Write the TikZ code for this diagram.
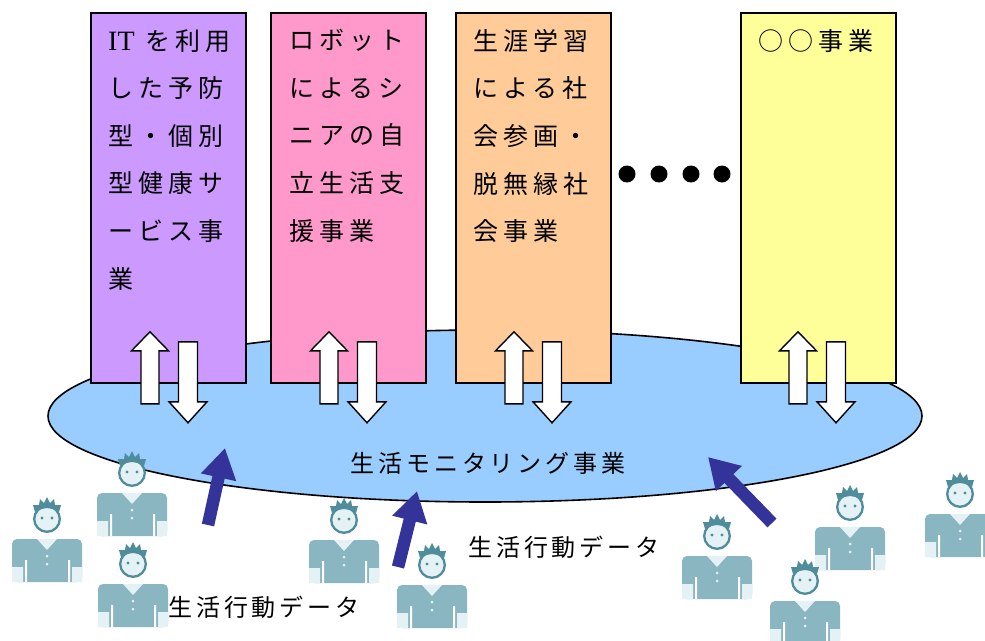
\documentclass[tikz,border=0pt]{standalone}
\usepackage{fontspec}
\newfontfamily\jpfont{Noto Sans CJK JP}[LetterSpace=16]
\newfontfamily\jpwide{Noto Sans CJK JP}[LetterSpace=20]
\newfontfamily\latfont{Liberation Serif}
\usetikzlibrary{
  arrows.meta,
  positioning,
  shapes.geometric
}

\definecolor{itpurple}{HTML}{CC99FF}
\definecolor{robopink}{HTML}{FF99CC}
\definecolor{learnorange}{HTML}{FFCC99}
\definecolor{otheryellow}{HTML}{FFFF99}
\definecolor{monblue}{HTML}{99CCFF}
\definecolor{dataindigo}{HTML}{333399}
\definecolor{shirtteal}{HTML}{8AB6C1}
\definecolor{facelight}{HTML}{E4F1F5}
\definecolor{hairteal}{HTML}{4F8D9C}

\tikzset{
  bizbox/.style={draw=black, line width=1.6pt, minimum width=155pt,
    minimum height=370pt, inner sep=0pt},
  boxtext/.style={anchor=north west, align=left, inner sep=0pt,
    font=\jpwide\fontsize{25}{47.6}\selectfont},
  jplabel/.style={inner sep=0pt, font=\jpfont\fontsize{24}{28}\selectfont},
  dataflow/.style={line width=12.5pt, dataindigo,
    -{Triangle[width=34pt,length=30pt]}},
  blockarrow/.style={draw=black, line width=1.4pt, fill=white, line join=miter},
  % up and down block arrows under a business box
  updown/.pic={
    \path[blockarrow] (-27.5,20) -- (-27.5,-33) -- (-37,-33) -- (-18.5,-52)
      -- (0,-33) -- (-9.5,-33) -- (-9.5,20) -- cycle;
    \path[blockarrow] (10,-42) -- (29,-42) -- (29,18) -- (38.5,18)
      -- (19.5,39) -- (0.5,18) -- (10,18) -- cycle;
  },
  % one senior, origin at the centre of the head
  person/.pic={
    \fill[shirtteal, rounded corners=5pt] (-35,20) rectangle (35,63);
    \fill[shirtteal] (-35,40) rectangle (35,63);
    \fill[facelight] (-10,20) -- (10,20) -- (0,31) -- cycle;
    \fill[facelight] (0,37) circle[radius=1.5pt] (0,45) circle[radius=1.5pt];
    \fill[white] (-22,41) rectangle (-20,63) (21,41) rectangle (23,63);
    \fill[facelight] (-35,48) rectangle (-24,63) (25,48) rectangle (35,63);
    \draw[hairteal, fill=facelight, line width=2.3pt] (0,0) circle[radius=12.8pt];
    \fill[hairteal] (-5,-1) circle[radius=1.6pt] (5,-1) circle[radius=1.6pt];
    \fill[hairteal] (-12,-7) -- (-14,-14) -- (-8,-14) -- (-7,-20) -- (-3,-16)
      -- (0,-22) -- (3,-16) -- (7,-20) -- (8,-14) -- (14,-14) -- (12,-7)
      -- (6,-10) -- (0,-11) -- (-6,-10) -- cycle;
  }
}

\begin{document}
\begin{tikzpicture}[x=1pt, y=-1pt]
\clip (0,0) rectangle (985,640);
\fill[white] (0,0) rectangle (985,640);

% monitoring platform
\node[ellipse, draw=black, line width=1.6pt, fill=monblue,
      minimum width=874pt, minimum height=172pt] (mon) at (485,416) {};
\node[jplabel] (monlabel) at (488,463) {生活モニタリング事業};

% business boxes
\node[bizbox, fill=itpurple] (itbox) at (168.5,198) {};
\node[bizbox, fill=robopink] (robobox) at (348.5,198) {};
\node[bizbox, fill=learnorange] (learnbox) at (533.5,198) {};
\node[bizbox, fill=otheryellow] (otherbox) at (818.5,198) {};

\node[boxtext] (ittext) at (108,29)
  {{\latfont\fontsize{28}{47.6}\selectfont IT} を利用\\した予防\\型・個別\\型健康サ\\ービス事\\業};
\node[boxtext] (robotext) at (289,29)
  {ロボット\\によるシ\\ニアの自\\立生活支\\援事業};
\node[boxtext] (learntext) at (473,29)
  {生涯学習\\による社\\会参画・\\脱無縁社\\会事業};
\node[boxtext] (othertext) at (758,29) {○○事業};

\pic at (itbox.south) {updown};
\pic at ([xshift=-1pt]robobox.south) {updown};
\pic at ([xshift=-1pt]learnbox.south) {updown};
\pic at ([xshift=-2pt]otherbox.south) {updown};

\foreach \x in {627,659,691,722}
  \fill (\x,174) circle[radius=8.5pt];

% seniors
\pic (p1) at (47,519) {person};
\pic (p2) at (132,473) {person};
\pic (p3) at (133,564) {person};
\pic (p4) at (344,520) {person};
\pic (p5) at (432,565) {person};
\pic (p6) at (717,536) {person};
\pic (p7) at (850,507) {person};
\pic (p8) at (805,581) {person};
\pic (p9) at (960,494) {person};

% life-log data flowing into the platform
\coordinate (src1) at (208,525);
\coordinate (in1) at (225,448);
\coordinate (src2) at (398,567);
\coordinate (in2) at (417,491);
\coordinate (src3) at (772,523);
\coordinate (in3) at (708,457);
\draw[dataflow] (src1) -- (in1);
\draw[dataflow] (src2) -- (in2);
\draw[dataflow] (src3) -- (in3);

\node[jplabel] (datalabelR) at (564,547) {生活行動データ};
\node[jplabel] (datalabelL) at (264,607) {生活行動データ};
\end{tikzpicture}
\end{document}
